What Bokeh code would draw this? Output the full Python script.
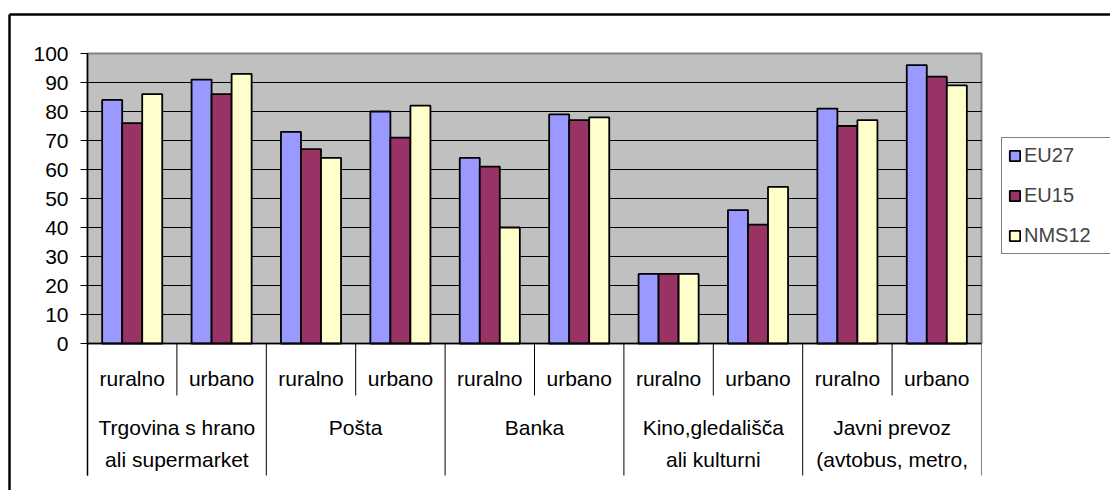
from bokeh.plotting import figure
from bokeh.models import (ColumnDataSource, Range1d, FixedTicker, LabelSet, LinearAxis,
                          Legend, LegendItem)
from bokeh.core.properties import value
from bokeh.embed import file_html
from bokeh.resources import INLINE

# ---- data ----
groups = ["Trgovina s hrano\nali supermarket", "Pošta", "Banka",
          "Kino,gledališča\nali kulturni", "Javni prevoz\n(avtobus, metro,"]
subs = ["ruralno", "urbano"]
series = ["EU27", "EU15", "NMS12"]
eu27 = [84, 91, 73, 80, 64, 79, 24, 46, 81, 96]
eu15 = [76, 86, 67, 71, 61, 77, 24, 41, 75, 92]
nms12 = [86, 93, 64, 82, 40, 78, 24, 54, 77, 89]
y_ticks = [0, 10, 20, 30, 40, 50, 60, 70, 80, 90, 100]
colors = ["#9999FF", "#993366", "#FFFFCC"]

FONT = "Liberation Sans"
FS = "21px"

# ---- layout (pixels on the canvas) ----
W, H = 1110, 490
X0, X1 = 87, 981      # plot area left / right
Y100, Y0 = 53, 343    # plot area top (100) / bottom (0)
ncat = len(groups) * len(subs)
sx = (X1 - X0) / ncat
sy = (Y0 - Y100) / (y_ticks[-1] - y_ticks[0])


def xd(px):
    return (px - X0) / sx


def yd(py):
    return (Y0 - py) / sy


p = figure(width=W, height=H, output_backend="svg", toolbar_location=None,
           x_range=Range1d(xd(0), xd(W)), y_range=Range1d(yd(H), yd(0)),
           x_axis_location=None, y_axis_location=None,
           min_border_left=0, min_border_right=0, min_border_top=0, min_border_bottom=0)
p.background_fill_color = "white"
p.border_fill_color = "white"
p.outline_line_color = None
p.grid.grid_line_color = None

# outer chart frame (only top and left edges fall on the canvas)
p.segment(x0=[xd(9), xd(9)], x1=[xd(W + 50), xd(9)], y0=[yd(14), yd(14)],
          y1=[yd(14), yd(H + 50)], line_color="black", line_width=2.5)

# plot area background with gray border
p.quad(left=[0], right=[ncat], bottom=[y_ticks[0]], top=[y_ticks[-1]],
       fill_color="#C0C0C0", line_color="#808080", line_width=2)

# gridlines
inner = y_ticks[1:-1]
p.segment(x0=[0] * len(inner), x1=[ncat] * len(inner), y0=inner, y1=inner,
          line_color="black", line_width=1)

# bars
bw = 0.224
vals = [eu27, eu15, nms12]
renderers = []
for k, (name, v, c) in enumerate(zip(series, vals, colors)):
    src = ColumnDataSource(dict(x=[i + 0.5 + (k - 1) * bw for i in range(ncat)], top=v))
    r = p.vbar(x="x", top="top", width=bw, bottom=0, source=src,
               fill_color=c, line_color="black", line_width=1.8)
    renderers.append(r)

# category separators
bx = list(range(ncat + 1))
sep_y1 = [yd(475) if b % len(subs) == 0 else yd(395) for b in bx]
sep_col = ["black"] * ncat + ["#808080"]
p.segment(x0=bx, x1=bx, y0=[0] * len(bx), y1=sep_y1, line_color=sep_col, line_width=1)
# category axis line
p.segment(x0=[0], x1=[ncat], y0=[0], y1=[0], line_color="black", line_width=1.5)

# value axis
yax = LinearAxis(fixed_location=0, bounds=(yd(475), y_ticks[-1]),
                 ticker=FixedTicker(ticks=y_ticks))
yax.major_tick_out = 7
yax.major_tick_in = 0
yax.minor_tick_line_color = None
yax.axis_line_color = "black"
yax.axis_line_width = 1.5
yax.major_tick_line_color = "black"
yax.major_label_text_font = FONT
yax.major_label_text_font_size = FS
yax.major_label_text_color = "black"
yax.major_label_standoff = 12
p.add_layout(yax, "left")

# category labels
sub_src = ColumnDataSource(dict(x=[i + 0.5 for i in range(ncat)],
                                y=[yd(378)] * ncat,
                                t=[subs[i % len(subs)] for i in range(ncat)]))
p.add_layout(LabelSet(x="x", y="y", text="t", source=sub_src, text_align="center",
                      text_baseline="middle", text_font=value(FONT), text_font_size=value(FS),
                      text_color="black"))

l1, l2 = [], []
for g in groups:
    parts = g.split("\n")
    l1.append(parts[0])
    l2.append(parts[1] if len(parts) > 1 else "")
gx = [len(subs) * j + len(subs) / 2 for j in range(len(groups))]
g_src1 = ColumnDataSource(dict(x=gx, y=[yd(427)] * len(groups), t=l1))
keep = [i for i, t in enumerate(l2) if t]
g_src2 = ColumnDataSource(dict(x=[gx[i] for i in keep], y=[yd(459)] * len(keep),
                               t=[l2[i] for i in keep]))
for s in (g_src1, g_src2):
    p.add_layout(LabelSet(x="x", y="y", text="t", source=s, text_align="center",
                          text_baseline="middle", text_font=value(FONT),
                          text_font_size=value(FS), text_color="black"))

# legend
legend = Legend(items=[LegendItem(label=n, renderers=[r]) for n, r in zip(series, renderers)],
                location=(1001, H - 254), orientation="vertical")
legend.label_text_font = FONT
legend.label_text_font_size = "20px"
legend.glyph_width = 13
legend.glyph_height = 13
legend.label_standoff = 3
legend.label_width = 100
legend.padding = 6
legend.spacing = 17
legend.border_line_color = "black"
legend.border_line_width = 1
legend.background_fill_color = "white"
legend.background_fill_alpha = 1
p.add_layout(legend)

open("out.html", "w").write(file_html(p, INLINE))
